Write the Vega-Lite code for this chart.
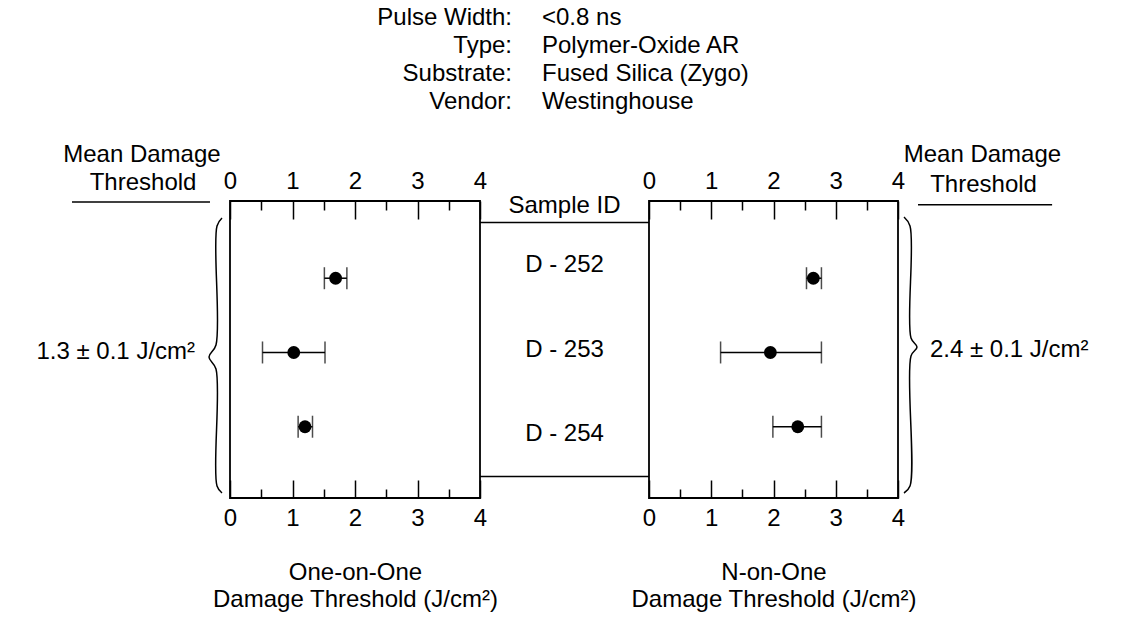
{
  "$schema": "https://vega.github.io/schema/vega-lite/v6.json",
  "padding": 0,
  "background": "white",
  "spacing": 81,
  "bounds": "flush",
  "config": {
    "view": {"stroke": null},
    "text": {"font": "Liberation Sans", "fontSize": 24, "color": "black"},
    "axis": {
      "labelFont": "Liberation Sans", "labelFontSize": 24, "labelColor": "black",
      "tickColor": "black", "tickWidth": 1.5, "domain": false, "grid": false,
      "labelFlush": false, "labelOverlap": false,
      "titleFont": "Liberation Sans", "titleFontSize": 24, "titleFontWeight": "normal", "titleColor": "black"
    }
  },
  "datasets": {
    "samples": [
      {"sample": "D - 252", "oo_mean": 1.69, "oo_lo": 1.51, "oo_hi": 1.87, "no_mean": 2.64, "no_lo": 2.53, "no_hi": 2.77},
      {"sample": "D - 253", "oo_mean": 1.02, "oo_lo": 0.52, "oo_hi": 1.52, "no_mean": 1.95, "no_lo": 1.15, "no_hi": 2.77},
      {"sample": "D - 254", "oo_mean": 1.2, "oo_lo": 1.09, "oo_hi": 1.32, "no_mean": 2.39, "no_lo": 1.99, "no_hi": 2.77}
    ],
    "header": [
      {"label": "Pulse Width:", "value": "<0.8 ns"},
      {"label": "Type:", "value": "Polymer-Oxide AR"},
      {"label": "Substrate:", "value": "Fused Silica (Zygo)"},
      {"label": "Vendor:", "value": "Westinghouse"}
    ],
    "braceL": [
      {"i": 1, "bx": 0.9652, "by": 0.9428},
      {"i": 2, "bx": 0.9435, "by": 0.9158},
      {"i": 3, "bx": 0.9391, "by": 0.5152},
      {"i": 4, "bx": 0.9087, "by": 0.4747},
      {"i": 5, "bx": 0.9391, "by": 0.4343},
      {"i": 6, "bx": 0.9435, "by": 0.0404},
      {"i": 7, "bx": 0.9652, "by": 0.0168}
    ],
    "braceR": [
      {"i": 1, "bx": 0.0261, "by": 0.9461},
      {"i": 2, "bx": 0.0522, "by": 0.9158},
      {"i": 3, "bx": 0.0565, "by": 0.5387},
      {"i": 4, "bx": 0.0826, "by": 0.5084},
      {"i": 5, "bx": 0.0565, "by": 0.4781},
      {"i": 6, "bx": 0.0522, "by": 0.0404},
      {"i": 7, "bx": 0.0261, "by": 0.0168}
    ]
  },
  "vconcat": [
    {
      "width": 1128,
      "height": 120,
      "data": {"name": "header"},
      "resolve": {"scale": {"x": "independent"}},
      "encoding": {
        "y": {"field": "label", "type": "nominal", "sort": null,
          "scale": {"type": "point", "padding": 0.643, "align": 0.5}, "axis": null}
      },
      "layer": [
        {
          "mark": {"type": "text", "align": "right", "baseline": "middle"},
          "encoding": {
            "x": {"datum": "key", "type": "nominal", "scale": {"type": "point", "domain": ["key"], "align": 0.4539}, "axis": null},
            "text": {"field": "label"}
          }
        },
        {
          "mark": {"type": "text", "align": "left", "baseline": "middle"},
          "encoding": {
            "x": {"datum": "value", "type": "nominal", "scale": {"type": "point", "domain": ["value"], "align": 0.4805}, "axis": null},
            "text": {"field": "value"}
          }
        }
      ]
    },
    {
      "hconcat": [
        {
          "width": 230,
          "height": 297,
          "data": {"name": "braceL"},
          "layer": [
            {
              "mark": {"type": "line", "interpolate": "catmull-rom", "color": "black", "strokeWidth": 1.5},
              "encoding": {
                "x": {"field": "bx", "type": "quantitative", "scale": {"domain": [0, 1], "nice": false, "zero": false}, "axis": null},
                "y": {"field": "by", "type": "quantitative", "scale": {"domain": [0, 1], "nice": false, "zero": false}, "axis": null},
                "order": {"field": "i"}
              }
            },
            {
              "data": {"values": [{}]},
              "mark": {"type": "text", "align": "right", "baseline": "middle"},
              "encoding": {
                "x": {"datum": 0.848, "type": "quantitative"},
                "y": {"datum": 0.4916, "type": "quantitative"},
                "text": {"value": "1.3 ± 0.1 J/cm²"}
              }
            },
            {
              "data": {"values": [{}]},
              "mark": {"type": "text", "align": "center", "baseline": "middle"},
              "encoding": {
                "x": {"datum": 0.617, "type": "quantitative"},
                "y": {"datum": 1.155, "type": "quantitative"},
                "text": {"value": "Mean Damage"}
              }
            },
            {
              "data": {"values": [{}]},
              "mark": {"type": "text", "align": "center", "baseline": "middle"},
              "encoding": {
                "x": {"datum": 0.622, "type": "quantitative"},
                "y": {"datum": 1.061, "type": "quantitative"},
                "text": {"value": "Threshold"}
              }
            },
            {
              "data": {"values": [{}]},
              "mark": {"type": "rule", "color": "black", "strokeWidth": 1.5},
              "encoding": {
                "x": {"datum": 0.313, "type": "quantitative"},
                "x2": {"datum": 0.913},
                "y": {"datum": 0.9966, "type": "quantitative"}
              }
            }
          ]
        },
        {
          "width": 250,
          "height": 297,
          "view": {"stroke": "black", "strokeWidth": 1.8},
          "data": {"name": "samples"},
          "resolve": {"axis": {"x": "independent"}},
          "encoding": {
            "y": {"field": "sample", "type": "nominal", "sort": null, "scale": {"type": "point", "padding": 1.09, "align": 0.52}, "axis": null}
          },
          "layer": [
            {
              "mark": {"type": "rule", "color": "black", "strokeWidth": 1.5},
              "encoding": {
                "x": {"field": "oo_lo", "type": "quantitative", "scale": {"domain": [0, 4], "nice": false, "zero": false},
                  "axis": {"orient": "bottom", "values": [0, 1, 2, 3, 4], "tickSize": -18, "labelPadding": 26, "title": ["One-on-One", "Damage Threshold (J/cm²)"], "titlePadding": 30, "titleLineHeight": 27}},
                "x2": {"field": "oo_hi"}
              }
            },
            {
              "mark": {"type": "tick", "color": "black", "size": 22, "thickness": 1.5},
              "encoding": {
                "x": {"field": "oo_lo", "type": "quantitative",
                  "axis": {"orient": "top", "values": [0, 1, 2, 3, 4], "tickSize": -18, "labelPadding": 26, "title": null}}
              }
            },
            {
              "mark": {"type": "tick", "color": "black", "size": 22, "thickness": 1.5},
              "encoding": {
                "x": {"field": "oo_hi", "type": "quantitative",
                  "axis": {"orient": "bottom", "values": [0.5, 1.5, 2.5, 3.5], "tickSize": -9, "labels": false, "title": null}}
              }
            },
            {
              "mark": {"type": "point", "filled": true, "color": "black", "size": 165, "opacity": 1},
              "encoding": {
                "x": {"field": "oo_mean", "type": "quantitative",
                  "axis": {"orient": "top", "values": [0.5, 1.5, 2.5, 3.5], "tickSize": -9, "labels": false, "title": null}}
              }
            }
          ]
        },
        {
          "width": 169,
          "height": 297,
          "data": {"name": "samples"},
          "layer": [
            {
              "mark": {"type": "text", "baseline": "middle"},
              "encoding": {
                "y": {"field": "sample", "type": "nominal", "sort": null, "scale": {"type": "band", "paddingInner": 0, "paddingOuter": 0.2535, "align": 0.5}, "axis": null},
                "text": {"field": "sample"}
              }
            },
            {
              "data": {"values": [{}]},
              "mark": {"type": "rule", "color": "black", "strokeWidth": 1.5},
              "encoding": {"y": {"datum": "D - 252", "type": "nominal", "bandPosition": 0}}
            },
            {
              "data": {"values": [{}]},
              "mark": {"type": "rule", "color": "black", "strokeWidth": 1.5},
              "encoding": {"y": {"datum": "D - 254", "type": "nominal", "bandPosition": 1}}
            },
            {
              "data": {"values": [{}]},
              "mark": {"type": "text", "baseline": "alphabetic", "dy": -9},
              "encoding": {
                "y": {"datum": "D - 252", "type": "nominal", "bandPosition": 0},
                "text": {"value": "Sample ID"}
              }
            }
          ]
        },
        {
          "width": 249,
          "height": 297,
          "view": {"stroke": "black", "strokeWidth": 1.8},
          "data": {"name": "samples"},
          "resolve": {"axis": {"x": "independent"}},
          "encoding": {
            "y": {"field": "sample", "type": "nominal", "sort": null, "scale": {"type": "point", "padding": 1.09, "align": 0.52}, "axis": null}
          },
          "layer": [
            {
              "mark": {"type": "rule", "color": "black", "strokeWidth": 1.5},
              "encoding": {
                "x": {"field": "no_lo", "type": "quantitative", "scale": {"domain": [0, 4], "nice": false, "zero": false},
                  "axis": {"orient": "bottom", "values": [0, 1, 2, 3, 4], "tickSize": -18, "labelPadding": 26, "title": ["N-on-One", "Damage Threshold (J/cm²)"], "titlePadding": 30, "titleLineHeight": 27}},
                "x2": {"field": "no_hi"}
              }
            },
            {
              "mark": {"type": "tick", "color": "black", "size": 22, "thickness": 1.5},
              "encoding": {
                "x": {"field": "no_lo", "type": "quantitative",
                  "axis": {"orient": "top", "values": [0, 1, 2, 3, 4], "tickSize": -18, "labelPadding": 26, "title": null}}
              }
            },
            {
              "mark": {"type": "tick", "color": "black", "size": 22, "thickness": 1.5},
              "encoding": {
                "x": {"field": "no_hi", "type": "quantitative",
                  "axis": {"orient": "bottom", "values": [0.5, 1.5, 2.5, 3.5], "tickSize": -9, "labels": false, "title": null}}
              }
            },
            {
              "mark": {"type": "point", "filled": true, "color": "black", "size": 165, "opacity": 1},
              "encoding": {
                "x": {"field": "no_mean", "type": "quantitative",
                  "axis": {"orient": "top", "values": [0.5, 1.5, 2.5, 3.5], "tickSize": -9, "labels": false, "title": null}}
              }
            }
          ]
        },
        {
          "width": 230,
          "height": 297,
          "data": {"name": "braceR"},
          "layer": [
            {
              "mark": {"type": "line", "interpolate": "catmull-rom", "color": "black", "strokeWidth": 1.5},
              "encoding": {
                "x": {"field": "bx", "type": "quantitative", "scale": {"domain": [0, 1], "nice": false, "zero": false}, "axis": null},
                "y": {"field": "by", "type": "quantitative", "scale": {"domain": [0, 1], "nice": false, "zero": false}, "axis": null},
                "order": {"field": "i"}
              }
            },
            {
              "data": {"values": [{}]},
              "mark": {"type": "text", "align": "left", "baseline": "middle"},
              "encoding": {
                "x": {"datum": 0.139, "type": "quantitative"},
                "y": {"datum": 0.498, "type": "quantitative"},
                "text": {"value": "2.4 ± 0.1 J/cm²"}
              }
            },
            {
              "data": {"values": [{}]},
              "mark": {"type": "text", "align": "center", "baseline": "middle"},
              "encoding": {
                "x": {"datum": 0.367, "type": "quantitative"},
                "y": {"datum": 1.155, "type": "quantitative"},
                "text": {"value": "Mean Damage"}
              }
            },
            {
              "data": {"values": [{}]},
              "mark": {"type": "text", "align": "center", "baseline": "middle"},
              "encoding": {
                "x": {"datum": 0.372, "type": "quantitative"},
                "y": {"datum": 1.054, "type": "quantitative"},
                "text": {"value": "Threshold"}
              }
            },
            {
              "data": {"values": [{}]},
              "mark": {"type": "rule", "color": "black", "strokeWidth": 1.5},
              "encoding": {
                "x": {"datum": 0.087, "type": "quantitative"},
                "x2": {"datum": 0.67},
                "y": {"datum": 0.987, "type": "quantitative"}
              }
            }
          ]
        }
      ],
      "spacing": 0,
      "bounds": "flush"
    }
  ]
}
